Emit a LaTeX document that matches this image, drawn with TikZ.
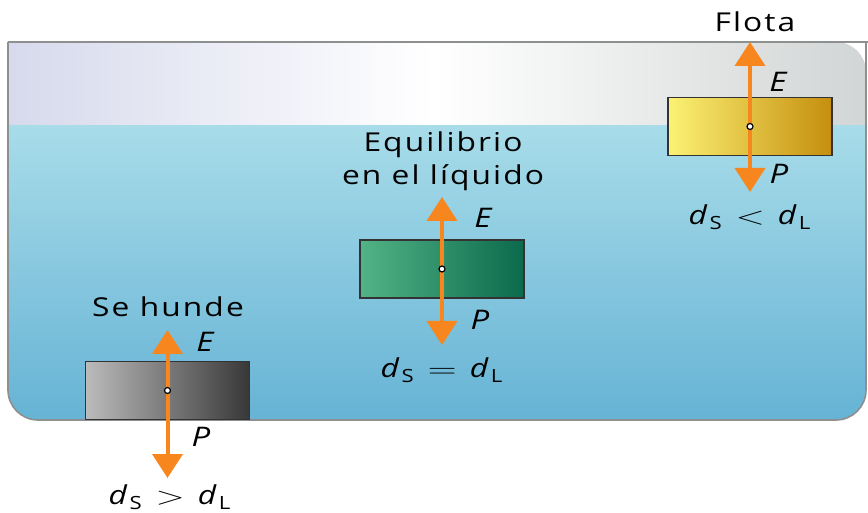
\documentclass[tikz,border=0pt]{standalone}
\usepackage{fontspec}
\setmainfont{Open Sans}[FakeStretch=1.22, LetterSpace=8]
\usetikzlibrary{arrows.meta, positioning}

\definecolor{forceorange}{HTML}{F7861E}
\definecolor{waterlight}{HTML}{A8DCE9}
\definecolor{waterdark}{HTML}{66B3D5}
\definecolor{airlav}{HTML}{D6D9EC}
\definecolor{airgray}{HTML}{D2D5D5}
\definecolor{wallgray}{HTML}{8E9090}
\definecolor{graylight}{HTML}{BBBBBB}
\definecolor{graydark}{HTML}{383838}
\definecolor{greenlight}{HTML}{52B386}
\definecolor{greendark}{HTML}{0B6A4C}
\definecolor{yellowlight}{HTML}{FBF274}
\definecolor{yellowdark}{HTML}{C68E0E}

% density relation, wide relation sign
\newcommand{\densrel}[1]{\textit{d}\textsubscript{S}\enspace\scalebox{1.6}[1.05]{$#1$}\enspace\textit{d}\textsubscript{L}}

\tikzset{
  force/.style={draw=forceorange, line width=2pt,
    -{Triangle[width=15pt,length=12pt]}}, % thrust and weight arrows
  body/.style={draw=black!80, line width=0.7pt, minimum width=82pt,
    minimum height=29pt, inner sep=0pt}, % the solid blocks
  cdot/.style={circle, draw=black, fill=white, inner sep=0pt,
    minimum size=3pt, line width=0.6pt}, % centre of the block
  lbl/.style={font=\fontsize{13}{16.5}\selectfont},
  flbl/.style={font=\fontsize{13.5}{14}\selectfont\itshape},
}

\begin{document}
\begin{tikzpicture}[x=0.5pt, y=-0.5pt]
  \useasboundingbox (0,0) rectangle (868,513);

  % vessel with air and liquid
  \begin{scope}
    \clip[rounded corners=15pt] (8,42) -- (8,420) -- (866,420) -- (866,42) -- (8,42);
    \shade[top color=waterlight, bottom color=waterdark] (0,125) rectangle (868,420);
    \shade[left color=airlav, right color=airgray, middle color=white] (0,42) rectangle (868,125);
  \end{scope}
  \draw[wallgray, line width=0.8pt, rounded corners=15pt] (8,42) -- (8,420) -- (866,420) -- (866,42);
  \draw[wallgray, line width=0.8pt] (8,42) -- (868,42);

  % blocks
  \node[body, left color=graylight, right color=graydark] (sink) at (167.5,390.5) {};
  \node[body, left color=greenlight, right color=greendark] (equil) at (442,269) {};
  \node[body, left color=yellowlight, right color=yellowdark] (float) at (750,126.5) {};

  % arrow tips
  \coordinate (sinkE) at (167.5,330);
  \coordinate (sinkP) at (167.5,478);
  \coordinate (equilE) at (442,197);
  \coordinate (equilP) at (442,345);
  \coordinate (floatE) at (750,42);
  \coordinate (floatP) at (750,192);

  \draw[force] (sink.center) -- (sinkE);
  \draw[force] (sink.center) -- (sinkP);
  \draw[force] (equil.center) -- (equilE);
  \draw[force] (equil.center) -- (equilP);
  \draw[force] (float.center) -- (floatE);
  \draw[force] (float.center) -- (floatP);

  \node[cdot] (sinkdot) at (sink.center) {};
  \node[cdot] (equildot) at (equil.center) {};
  \node[cdot] (floatdot) at (float.center) {};

  % labels
  \node[lbl] (sinktxt) at (168,307) {Se hunde};
  \node[flbl] (sinkEtxt) at (205,342) {E};
  \node[flbl] (sinkPtxt) at (201,437) {P};
  \node[lbl] (sinkrel) at (170,497) {\densrel{>}};

  \node[lbl, align=center] (equiltxt) at (443,161) {Equilibrio\\en el líquido};
  \node[flbl] (equilEtxt) at (483,218) {E};
  \node[flbl] (equilPtxt) at (480,320) {P};
  \node[lbl] (equilrel) at (442,370) {\densrel{=}};

  \node[lbl] (floattxt) at (755,22) {Flota};
  \node[flbl] (floatEtxt) at (778,82) {E};
  \node[flbl] (floatPtxt) at (779,174) {P};
  \node[lbl] (floatrel) at (750,217) {\densrel{<}};
\end{tikzpicture}
\end{document}
